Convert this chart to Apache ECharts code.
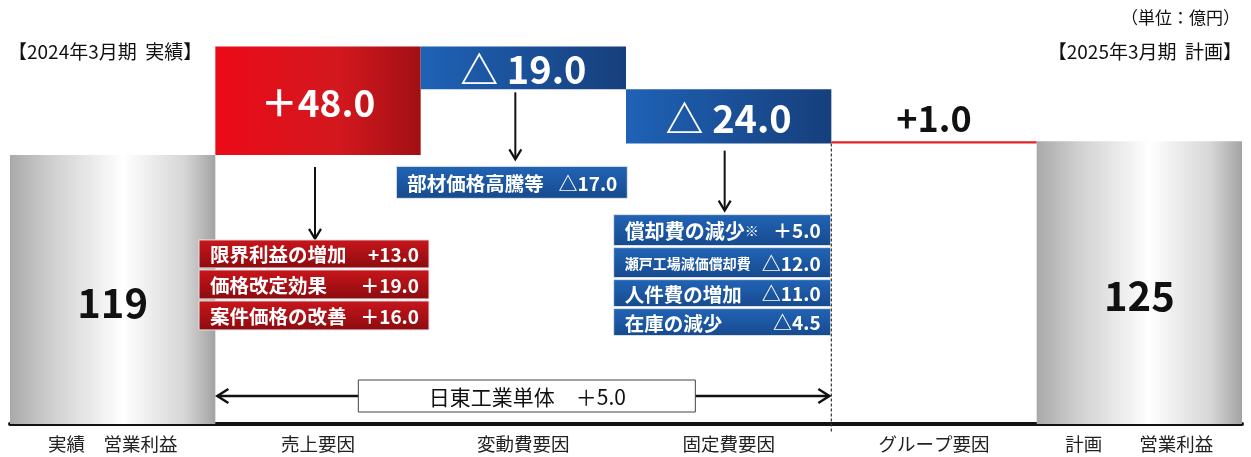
<!DOCTYPE html>
<html>
<head>
<meta charset="utf-8">
<script src="https://cdn.jsdelivr.net/npm/echarts@6/dist/echarts.min.js"></script>
<style>
  html, body { margin: 0; padding: 0; background: #fff; }
  #chart { width: 1251px; height: 457px; }
</style>
</head>
<body>
<div id="chart"></div>
<script>
const categories = ['実績　営業利益', '売上要因', '変動費要因', '固定費要因', 'グループ要因', '計画　　営業利益']
const changes = [119, 48, -19, -24, 1, 125]
const valueLabels = ['119', '＋48.0', '△ 19.0', '△ 24.0', '+1.0', '125']

const salesNames = ['限界利益の増加', '価格改定効果', '案件価格の改善']
const salesValues = ['+13.0', '＋19.0', '＋16.0']
const variableNames = ['部材価格高騰等']
const variableValues = ['△17.0']
const fixedNames = ['償却費の減少※', '瀬戸工場減価償却費', '人件費の増加', '在庫の減少']
const fixedValues = ['＋5.0', '△12.0', '△11.0', '△4.5']
const nittoLabel = '日東工業単体　＋5.0'

const font = "'Noto Sans CJK JP', 'Noto Sans', sans-serif"

// waterfall: invisible base + visible part
const bases = []
const heights = []
let total = 0
changes.forEach((v, i) => {
  if (i === 0 || i === changes.length - 1) {
    bases.push(0); heights.push(v); total = v
  } else if (v >= 0) {
    bases.push(total); heights.push(v); total += v
  } else {
    total += v; bases.push(total); heights.push(-v)
  }
})

const grey = new echarts.graphic.LinearGradient(0, 0, 1, 0, [
  { offset: 0, color: '#a9a9a9' },
  { offset: 0.2, color: '#cfcfcf' },
  { offset: 0.55, color: '#ffffff' },
  { offset: 0.85, color: '#d6d6d6' },
  { offset: 1, color: '#a3a3a3' }
])
const red = new echarts.graphic.LinearGradient(0, 0, 1, 0, [
  { offset: 0, color: '#ec0a18' },
  { offset: 0.6, color: '#d2181e' },
  { offset: 1, color: '#a11014' }
])
const blue = new echarts.graphic.LinearGradient(0, 0, 1, 0, [
  { offset: 0, color: '#1f62b6' },
  { offset: 1, color: '#163f7c' }
])

function itemFor(i) {
  const v = changes[i]
  const isTotal = i === 0 || i === changes.length - 1
  let color = isTotal ? grey : (v >= 0 ? red : blue)
  if (heights[i] < 5) color = '#e0222a'
  let label
  if (isTotal) {
    label = { show: true, position: 'inside', offset: [0, 13], color: '#111', fontSize: 40, fontWeight: 'bold', fontFamily: font }
  } else if (heights[i] < 5) {
    label = { show: true, position: 'top', distance: 5, color: '#111', fontSize: 36, fontWeight: 'bold', fontFamily: font }
  } else {
    label = { show: true, position: 'inside', offset: [0, 2], color: '#fff', fontSize: v >= 0 ? 37 : 38, fontWeight: 'bold', fontFamily: font }
  }
  return { value: heights[i], itemStyle: { color: color }, label: label }
}

const chart = echarts.init(document.getElementById('chart'))

chart.setOption({
  animation: false,
  grid: { left: 10, right: 9, top: 17, bottom: 33 },
  xAxis: {
    type: 'category',
    data: categories,
    axisTick: { show: false },
    axisLine: { lineStyle: { color: '#111', width: 4 } },
    axisLabel: { color: '#222', fontSize: 18.5, fontFamily: font, margin: 11 }
  },
  yAxis: { type: 'value', min: 0, max: 180, show: false, splitLine: { show: false } },
  series: [
    {
      type: 'bar', stack: 'w', barWidth: '100%',
      itemStyle: { color: 'transparent' },
      data: bases
    },
    {
      type: 'bar', stack: 'w', barWidth: '100%',
      label: { formatter: (p) => valueLabels[p.dataIndex] },
      data: heights.map((h, i) => itemFor(i))
    }
  ]
})

// annotations anchored on the axes
function px(i, v) { return chart.convertToPixel({ gridIndex: 0 }, [i, v]) }
const band = px(1, 0)[0] - px(0, 0)[0]
const baseY = px(0, 0)[1]

function arrowDown(x, y1, y2) {
  return [
    { type: 'line', shape: { x1: x, y1: y1, x2: x, y2: y2 - 1 }, style: { stroke: '#111', lineWidth: 2 } },
    { type: 'polyline', shape: { points: [[x - 6, y2 - 10], [x, y2], [x + 6, y2 - 10]] }, style: { stroke: '#111', lineWidth: 2.2, fill: null } }
  ]
}

function boxes(left, top, width, names, values, rowH, fill, sizes) {
  const out = []
  let y = top
  names.forEach((n, k) => {
    const h = rowH[k]
    out.push({ type: 'rect', shape: { x: left, y: y, width: width, height: h }, style: { fill: fill, stroke: '#e6e6e6', lineWidth: 1 } })
    const s = sizes[k]
    const isMark = n.endsWith('※')
    out.push({
      type: 'text', x: left + 11, y: y + h / 2 + 1,
      style: {
        text: isMark ? '{a|' + n.slice(0, -1) + '}{b|※}' : n,
        rich: { a: { fontSize: s, fontWeight: 'bold', fill: '#fff', fontFamily: font }, b: { fontSize: s - 6, fontWeight: 'bold', fill: '#fff', fontFamily: font } },
        fill: '#fff', fontSize: s, fontWeight: 'bold', fontFamily: font, verticalAlign: 'middle'
      }
    })
    out.push({
      type: 'text', x: left + width - 10, y: y + h / 2 + 1,
      style: { text: values[k], fill: '#fff', fontSize: 19, fontWeight: 'bold', fontFamily: font, align: 'right', verticalAlign: 'middle' }
    })
    y += h + 2
  })
  return out
}

const redBox = new echarts.graphic.LinearGradient(0, 0, 0, 1, [
  { offset: 0, color: '#c8161c' },
  { offset: 1, color: '#8c0b0f' }
])
const blueBox = new echarts.graphic.LinearGradient(0, 0, 0, 1, [
  { offset: 0, color: '#2164b6' },
  { offset: 1, color: '#174a8e' }
])

const salesX = px(1, 0)[0]
const salesBottom = px(1, bases[1])[1]
const varX = px(2, 0)[0]
const varBottom = px(2, bases[2])[1]
const fixX = px(3, 0)[0]
const fixBottom = px(3, bases[3])[1]
const divX = fixX + band / 2

let elements = []
  .concat(arrowDown(salesX - 3, salesBottom + 12, salesBottom + 84))
  .concat(boxes(salesX - 119, salesBottom + 85, 230, salesNames, salesValues, [28, 29, 29], redBox, [19.5, 19.5, 19.5]))
  .concat(arrowDown(varX - 8, varBottom + 3, varBottom + 70))
  .concat(boxes(varX - 127, varBottom + 77, 231, variableNames, variableValues, [32], blueBox, [19.5]))
  .concat(arrowDown(fixX - 4, fixBottom + 7, fixBottom + 67))
  .concat(boxes(fixX - 115, fixBottom + 71, 217, fixedNames, fixedValues, [31, 30, 27, 27], blueBox, [20, 14, 19.5, 19.5]))

// dashed divider
elements.push({ type: 'line', shape: { x1: divX, y1: fixBottom, x2: divX, y2: baseY + 8 }, style: { stroke: '#333', lineWidth: 1.2, lineDash: [3, 2] } })

// Nitto double arrow
const ay = baseY - 28
const ax1 = salesX - band / 2 + 2
const ax2 = divX - 2
elements.push(
  { type: 'line', shape: { x1: ax1, y1: ay, x2: ax2, y2: ay }, style: { stroke: '#111', lineWidth: 2.5 } },
  { type: 'polyline', shape: { points: [[ax1 + 11, ay - 7], [ax1, ay], [ax1 + 11, ay + 7]] }, style: { stroke: '#111', lineWidth: 2.5, fill: null } },
  { type: 'polyline', shape: { points: [[ax2 - 11, ay - 7], [ax2, ay], [ax2 - 11, ay + 7]] }, style: { stroke: '#111', lineWidth: 2.5, fill: null } },
  { type: 'rect', shape: { x: (ax1 + ax2) / 2 - 165, y: ay - 16, width: 337, height: 32 }, style: { fill: '#fff', stroke: '#444', lineWidth: 1 } },
  { type: 'text', x: (ax1 + ax2) / 2 + 4, y: ay + 1, style: { text: nittoLabel, fill: '#111', fontSize: 21, fontFamily: font, align: 'center', verticalAlign: 'middle' } }
)

// headers
elements.push(
  { type: 'text', x: 8, y: 52, style: { text: '【2024年3月期  実績】', fill: '#111', fontSize: 19, fontFamily: font, verticalAlign: 'middle' } },
  { type: 'text', x: 1240, y: 18, style: { text: '（単位：億円）', fill: '#111', fontSize: 17, fontFamily: font, align: 'right', verticalAlign: 'middle' } },
  { type: 'text', x: 1242, y: 52, style: { text: '【2025年3月期  計画】', fill: '#111', fontSize: 19, fontFamily: font, align: 'right', verticalAlign: 'middle' } }
)

elements = elements.map((e) => Object.assign({ z: 100 }, e))
chart.setOption({ graphic: { elements: elements } })
</script>
</body>
</html>
